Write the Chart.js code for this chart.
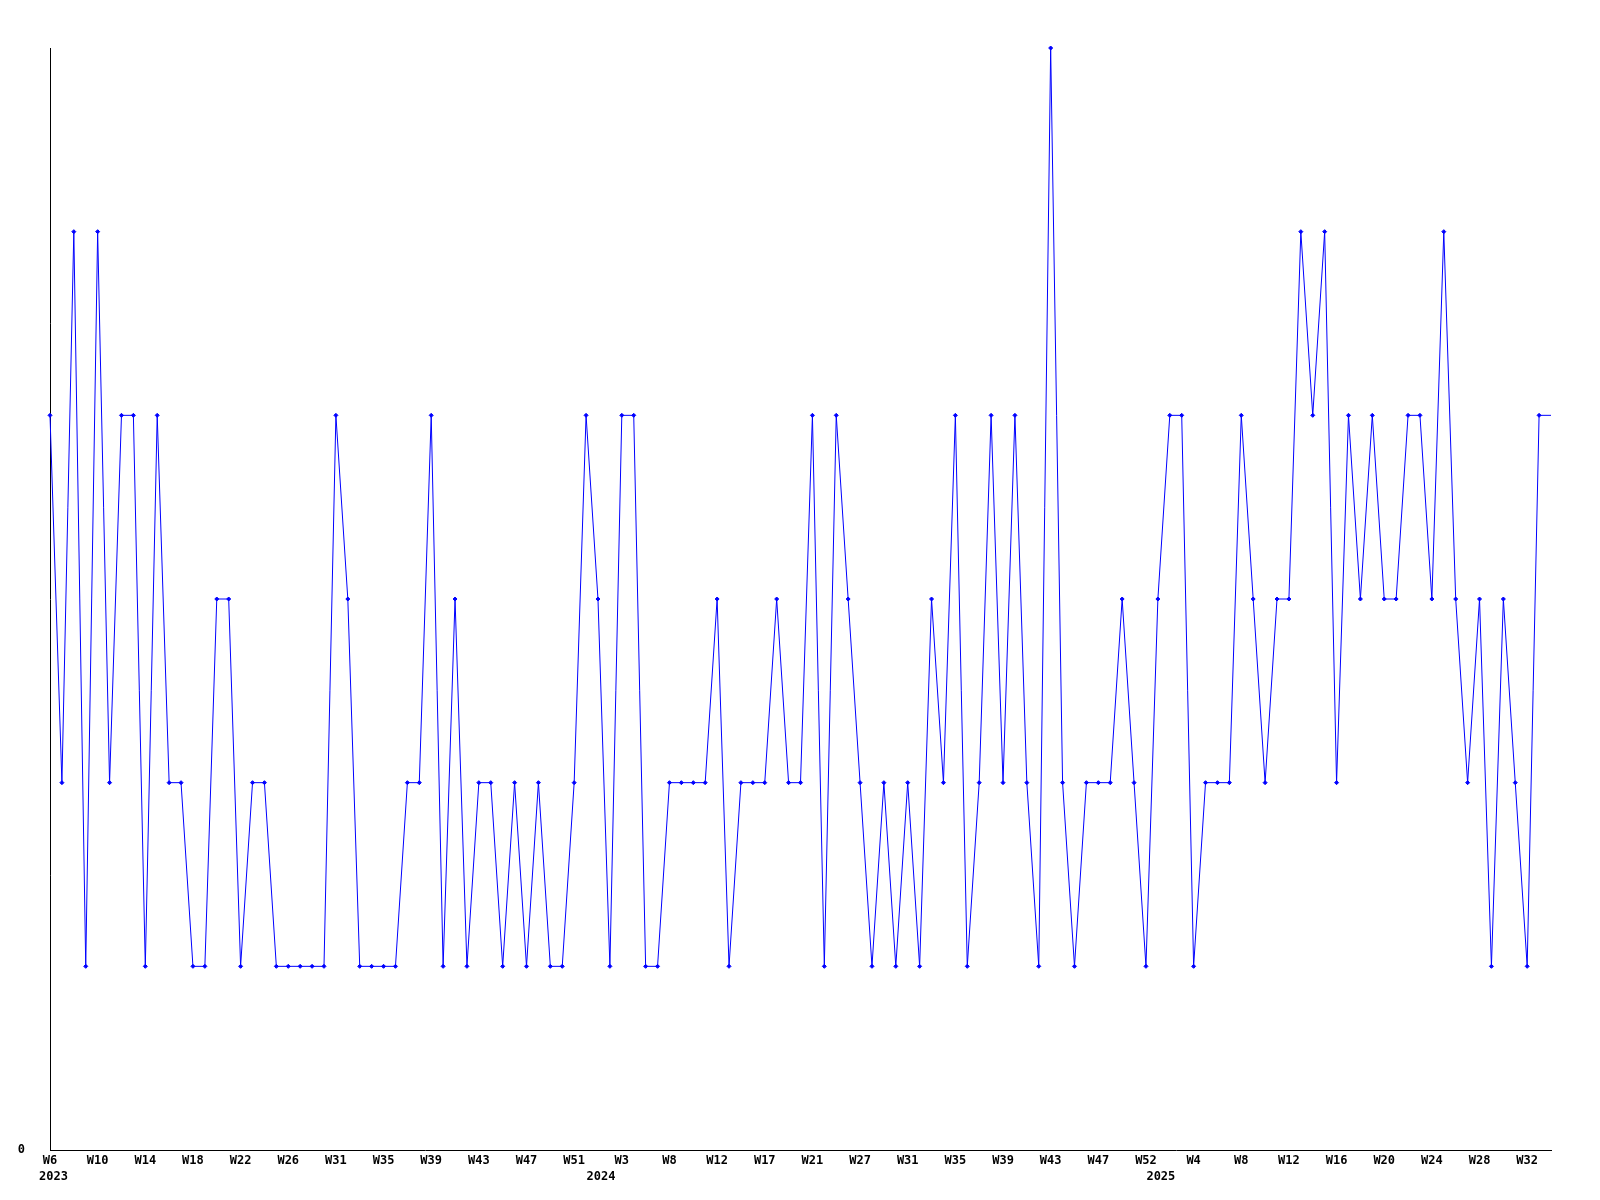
<!DOCTYPE html>
<html>
<head>
<meta charset="utf-8">
<script src="https://cdn.jsdelivr.net/npm/chart.js@4/dist/chart.umd.min.js"></script>
<style>
  body { margin: 0; background: #fff; }
  canvas { display: block; }
</style>
</head>
<body>
<canvas id="week-chart" width="1600" height="1200"></canvas>
<script>
// Weekly values, one per point (the last one only carries the line to the edge)
const values = [
  4, 2, 5, 1, 5, 2, 4, 4, 1, 4,
  2, 2, 1, 1, 3, 3, 1, 2, 2, 1,
  1, 1, 1, 1, 4, 3, 1, 1, 1, 1,
  2, 2, 4, 1, 3, 1, 2, 2, 1, 2,
  1, 2, 1, 1, 2, 4, 3, 1, 4, 4,
  1, 1, 2, 2, 2, 2, 3, 1, 2, 2,
  2, 3, 2, 2, 4, 1, 4, 3, 2, 1,
  2, 1, 2, 1, 3, 2, 4, 1, 2, 4,
  2, 4, 2, 1, 6, 2, 1, 2, 2, 2,
  3, 2, 1, 3, 4, 4, 1, 2, 2, 2,
  4, 3, 2, 3, 3, 5, 4, 5, 2, 4,
  3, 4, 3, 3, 4, 4, 3, 5, 3, 2,
  3, 1, 3, 2, 1, 4, 4
];

// Week tick labels and where they sit (point index)
const weekLabels = [
  'W6', 'W10', 'W14', 'W18', 'W22', 'W26', 'W31', 'W35', 'W39', 'W43', 'W47', 'W51',
  'W3', 'W8', 'W12', 'W17', 'W21', 'W27', 'W31', 'W35', 'W39', 'W43', 'W47', 'W52',
  'W4', 'W8', 'W12', 'W16', 'W20', 'W24', 'W28', 'W32'
];
const weekTickPos = weekLabels.map((w, i) => i * 4);

// Year labels under the weeks
const yearLabels = ['2023', '2024', '2025'];
const yearTickPos = [0.3, 46.25, 93.25];

const tickFont = { family: '"DejaVu Sans Mono", "Liberation Mono", monospace', size: 12, weight: 'bold' };

function setTicks(positions) {
  return scale => { scale.ticks = positions.map(v => ({ value: v })); };
}

const ctx = document.getElementById('week-chart').getContext('2d');
const weekChart = new Chart(ctx, {
  type: 'line',
  data: {
    datasets: [{
      data: values.map((v, i) => ({ x: i, y: v })),
      borderColor: '#0000ff',
      borderWidth: 1,
      tension: 0,
      pointStyle: 'rectRot',
      pointRadius: c => (c.dataIndex === values.length - 1 ? 0 : 2),
      pointBackgroundColor: '#0000ff',
      pointBorderColor: '#0000ff',
      pointBorderWidth: 1,
      clip: false
    }]
  },
  options: {
    responsive: false,
    animation: false,
    devicePixelRatio: 1,
    layout: { padding: { left: 0, right: 49, top: 48, bottom: 7 } },
    plugins: { legend: { display: false }, tooltip: { enabled: false } },
    scales: {
      x: {
        type: 'linear',
        position: 'bottom',
        weight: 0,
        min: 0,
        max: values.length - 1,
        bounds: 'data',
        grid: { display: false, drawTicks: false },
        border: { display: true, color: '#000', width: 1 },
        afterBuildTicks: setTicks(weekTickPos),
        afterFit: scale => { scale.height = 19; },
        ticks: {
          autoSkip: false,
          maxRotation: 0,
          padding: 4,
          color: '#000',
          font: tickFont,
          callback: (v, i) => weekLabels[i]
        }
      },
      x2: {
        type: 'linear',
        position: 'bottom',
        weight: 1,
        min: 0,
        max: values.length - 1,
        bounds: 'data',
        grid: { display: false, drawTicks: false },
        border: { display: false },
        afterBuildTicks: setTicks(yearTickPos),
        afterFit: scale => { scale.height = 24; },
        ticks: {
          autoSkip: false,
          maxRotation: 0,
          padding: 1,
          color: '#000',
          font: tickFont,
          callback: (v, i) => yearLabels[i]
        }
      },
      y: {
        min: 0,
        max: 6,
        grid: { display: false, drawTicks: false },
        border: { display: true, color: '#000', width: 1 },
        afterBuildTicks: setTicks([0]),
        afterFit: scale => { scale.width = 50; },
        ticks: {
          padding: 25,
          color: '#000',
          font: tickFont,
          callback: v => String(v)
        }
      }
    }
  }
});
</script>
</body>
</html>
